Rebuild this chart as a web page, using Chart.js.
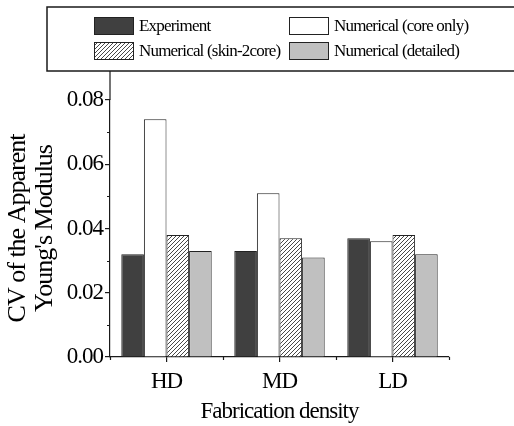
<!DOCTYPE html>
<html>
<head>
<title>CV of the Apparent Young's Modulus</title>
<script src="https://cdn.jsdelivr.net/npm/chart.js"></script>
<style>
  body { margin: 0; background: #fff; }
  canvas { display: block; }
</style>
</head>
<body>
<canvas id="cv-chart" width="514" height="426"></canvas>
<script>
const densities = ['HD', 'MD', 'LD'];
const seriesNames = ['Experiment', 'Numerical (core only)', 'Numerical (skin-2core)', 'Numerical (detailed)'];
const experiment = [0.032, 0.033, 0.037];
const coreOnly   = [0.074, 0.051, 0.036];
const skin2core  = [0.038, 0.037, 0.038];
const detailed   = [0.033, 0.031, 0.032];
const yTicks = [0, 0.02, 0.04, 0.06, 0.08];
const yMinorTicks = [0.01, 0.03, 0.05, 0.07];

const SERIF = '"Liberation Serif", "Times New Roman", serif';
const INK = '#1a1a1a';

// diagonal hatch for the skin-2core bars
function hatch() {
    const c = document.createElement('canvas');
    c.width = 4; c.height = 4;
    const g = c.getContext('2d');
    g.fillStyle = '#fff';
    g.fillRect(0, 0, 4, 4);
    g.strokeStyle = '#333';
    g.lineWidth = 0.9;
    g.beginPath();
    g.moveTo(-1, 5); g.lineTo(5, -1);
    g.moveTo(-1, 1); g.lineTo(1, -1);
    g.moveTo(3, 5); g.lineTo(5, 3);
    g.stroke();
    return g.createPattern(c, 'repeat');
}

const fills = ['#404040', '#ffffff', hatch(), '#c0c0c0'];
const values = [experiment, coreOnly, skin2core, detailed];

const tightText = {
    id: 'tightText',
    beforeUpdate(chart) { chart.ctx.letterSpacing = '-1px'; },
    beforeDraw(chart) { chart.ctx.letterSpacing = '-1px'; }
};

const extras = {
    id: 'extras',
    afterDraw(chart) {
        const ctx = chart.ctx, x = chart.scales.x, y = chart.scales.y;
        const area = chart.chartArea;
        ctx.save();
        ctx.strokeStyle = INK;
        ctx.lineWidth = 1.2;
        ctx.beginPath();
        // y axis continues up to the legend frame
        ctx.moveTo(area.left, area.top);
        ctx.lineTo(area.left, 71);
        // minor ticks
        yMinorTicks.forEach(v => {
            const py = Math.round(y.getPixelForValue(v)) + 0.5;
            ctx.moveTo(area.left, py); ctx.lineTo(area.left - 3, py);
        });
        for (let i = 0; i <= densities.length; i++) {
            const px = Math.round(x.getPixelForValue(i - 0.5)) + 0.5;
            ctx.moveTo(px, area.bottom); ctx.lineTo(px, area.bottom + 3);
        }
        ctx.stroke();

        // legend frame
        ctx.fillStyle = '#fff';
        ctx.fillRect(47, 7, 480, 64);
        ctx.lineWidth = 1.5;
        ctx.strokeRect(47, 7, 480, 64);

        const cols = [94, 289], rows = [26, 51];
        ctx.font = '17px ' + SERIF;
        ctx.letterSpacing = '-0.8px';
        ctx.textBaseline = 'middle';
        ctx.textAlign = 'left';
        chart.data.datasets.forEach((ds, i) => {
            const lx = cols[i % 2], ly = rows[Math.floor(i / 2)];
            ctx.fillStyle = ds.backgroundColor;
            ctx.fillRect(lx, ly - 9, 40, 18);
            ctx.lineWidth = 1;
            ctx.strokeStyle = '#222';
            ctx.strokeRect(lx + 0.5, ly - 8.5, 39, 17);
            ctx.fillStyle = '#000';
            ctx.fillText(ds.label, lx + 45, ly + 1);
        });
        ctx.restore();
    }
};

new Chart(document.getElementById('cv-chart'), {
    type: 'bar',
    data: {
        labels: densities,
        datasets: seriesNames.map((name, i) => ({
            label: name,
            data: values[i],
            backgroundColor: fills[i],
            borderColor: '#222',
            borderWidth: 1
        }))
    },
    options: {
        responsive: false,
        animation: false,
        devicePixelRatio: 1,
        layout: { padding: { top: 100, right: 65, left: 0, bottom: 0 } },
        datasets: { bar: { categoryPercentage: 0.8, barPercentage: 1 } },
        plugins: { legend: { display: false }, tooltip: { enabled: false } },
        scales: {
            x: {
                afterFit(s) { s.height = 69; },
                grid: { display: true, drawOnChartArea: false, offset: false, tickLength: 5, color: INK, lineWidth: 1.2 },
                border: { color: INK, width: 1.2 },
                ticks: { color: '#000', padding: 6, font: { family: SERIF, size: 23 } },
                title: {
                    display: true, text: 'Fabrication density', color: '#000',
                    padding: { top: 0, bottom: 0 },
                    font: { family: SERIF, size: 23, lineHeight: 1.2 }
                }
            },
            y: {
                min: 0, max: 0.08,
                afterFit(s) { s.width = 110; },
                afterBuildTicks(s) { s.ticks = yTicks.map(v => ({ value: v })); },
                grid: { display: true, drawOnChartArea: false, tickLength: 5, color: INK, lineWidth: 1.2 },
                border: { color: INK, width: 1.2 },
                ticks: {
                    color: '#000', padding: 2,
                    font: { family: SERIF, size: 23 },
                    callback: v => v.toFixed(2)
                },
                title: {
                    display: true, text: ['CV of the Apparent', "Young's Modulus"], color: '#000',
                    padding: { top: 4, bottom: 0 },
                    font: { family: SERIF, size: 26, lineHeight: 1.06 }
                }
            }
        }
    },
    plugins: [tightText, extras]
});
</script>
</body>
</html>
